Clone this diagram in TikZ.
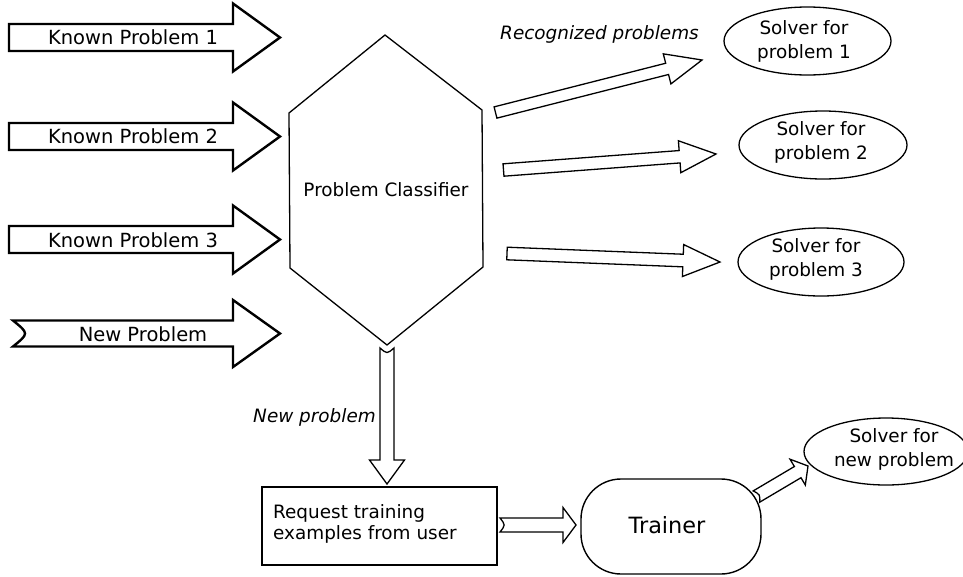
\documentclass[tikz,border=0pt]{standalone}
\usepackage{fontspec}
\setmainfont{DejaVu Sans}
\usetikzlibrary{calc}
\newcommand{\fatarr}[7]{%
  \coordinate (#2-#3-b) at ($(#3)!#6!(#2)$);
  \coordinate (#2-#3-c) at ($(#2)!#7!(#3)$);
  \draw[#1] ($(#2)!#4!-90:(#3)$) .. controls (#2-#3-c) .. ($(#2)!#4!90:(#3)$)
    -- ($(#2-#3-b)!#4!90:(#3)$) -- ($(#2-#3-b)!#5!90:(#3)$) -- (#3)
    -- ($(#2-#3-b)!#5!-90:(#3)$) -- ($(#2-#3-b)!#4!-90:(#3)$) -- cycle;
}
\tikzset{
  bigarrow/.style={draw=black, line width=2.4pt, fill=white, line join=miter},
  thinarrow/.style={draw=black, line width=1.3pt, fill=white, line join=miter},
  txt/.style={font=\fontsize{18.4}{24}\selectfont, inner sep=0pt},
  bigtxt/.style={font=\fontsize{19.5}{24}\selectfont, inner sep=0pt},
  itxt/.style={font=\fontsize{18.4}{24}\selectfont\itshape, inner sep=0pt},
  solver/.style={draw, line width=1.3pt, ellipse, minimum width=167, minimum height=68, inner sep=0pt},
}
\usetikzlibrary{shapes.geometric}
\begin{document}
\begin{tikzpicture}[x=1pt, y=-1pt]
\useasboundingbox (0,0) rectangle (963,576);

% input arrows
\coordinate (k1t) at (9,37.5);   \coordinate (k1h) at (280,37.5);
\coordinate (k2t) at (9,136.5);  \coordinate (k2h) at (280,136.5);
\coordinate (k3t) at (9,239.5);  \coordinate (k3h) at (280,239.5);
\coordinate (n1t) at (13,333.5); \coordinate (n1h) at (280,333.5);
\fatarr{bigarrow}{k1t}{k1h}{13.5pt}{34pt}{47pt}{0pt}
\fatarr{bigarrow}{k2t}{k2h}{13.5pt}{34pt}{47pt}{0pt}
\fatarr{bigarrow}{k3t}{k3h}{13.5pt}{34pt}{47pt}{0pt}
\fatarr{bigarrow}{n1t}{n1h}{13pt}{33.5pt}{47pt}{16pt}
\node[bigtxt] (k1) at (133,37) {Known Problem 1};
\node[bigtxt] (k2) at (133,136) {Known Problem 2};
\node[bigtxt] (k3) at (133,240) {Known Problem 3};
\node[bigtxt] (np) at (143,334) {New Problem};

% classifier hexagon
\coordinate (h1) at (385,35);
\coordinate (h2) at (482,110);
\coordinate (h3) at (483,267);
\coordinate (h4) at (387,345);
\coordinate (h5) at (290,268);
\coordinate (h6) at (289,113);
\draw[line width=1.3pt, line join=miter] (h1) -- (h2) -- (h3) -- (h4) -- (h5) -- (h6) -- cycle;
\node[txt] (pc) at (386,190) {Problem Classifier};

% solvers
\node[solver] (s1) at (807.5,41) {};
\node[txt, align=center] at (804,41) {Solver for\\problem 1};
\node[solver, minimum width=168] (s2) at (823,145) {};
\node[txt, align=center] at (821,142) {Solver for\\problem 2};
\node[solver, minimum width=166] (s3) at (821,262) {};
\node[txt, align=center] at (816,259.5) {Solver for\\problem 3};
\node[solver, minimum width=164, minimum height=67] (s4) at (886,451.5) {};
\node[txt, align=center] at (894,449) {Solver for\\new problem};

\node[itxt] (rp) at (599.5,34) {Recognized problems};

% recognized arrows
\coordinate (r1t) at (495.5,112.5); \coordinate (r1h) at (702,60);
\coordinate (r2t) at (503.5,170);   \coordinate (r2h) at (716,154);
\coordinate (r3t) at (507,253.5);   \coordinate (r3h) at (720,262);
\fatarr{thinarrow}{r1t}{r1h}{5.8pt}{15.5pt}{36pt}{0pt}
\fatarr{thinarrow}{r2t}{r2h}{6.2pt}{16pt}{36.5pt}{0pt}
\fatarr{thinarrow}{r3t}{r3h}{6.3pt}{16pt}{37pt}{0pt}

% new problem path
\coordinate (dt) at (387,348); \coordinate (dh) at (387,484);
\fatarr{thinarrow}{dt}{dh}{7pt}{17.5pt}{24pt}{6pt}
\node[itxt] (nl) at (314.5,417) {New problem};

\node[draw, line width=1.4pt, minimum width=235, minimum height=78, inner sep=0pt] (req) at (379.5,526) {};
\node[txt, align=left, anchor=west, font=\fontsize{18.4}{21.3}\selectfont] at (273,524) {Request training\\examples from user};

\node[draw, line width=1.4pt, rounded corners=40, minimum width=180, minimum height=95, inner sep=0pt] (tr) at (671,526.5) {};
\node[txt, font=\fontsize{22.4}{26}\selectfont] at (667,525) {Trainer};

\coordinate (qt) at (500,525); \coordinate (qh) at (576,525);
\fatarr{thinarrow}{qt}{qh}{7pt}{17.5pt}{13pt}{5.5pt}
\coordinate (tt) at (756.5,496.5); \coordinate (th) at (808,466);
\fatarr{thinarrow}{tt}{th}{6.5pt}{15pt}{12pt}{4pt}
\end{tikzpicture}
\end{document}
